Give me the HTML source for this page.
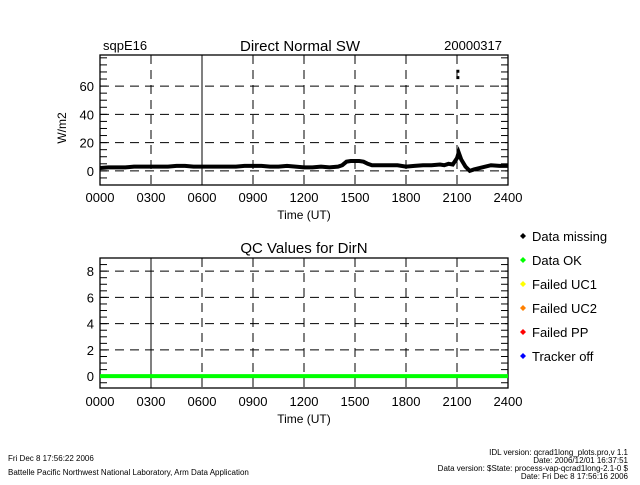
<!DOCTYPE html>
<html><head><meta charset="utf-8"><style>
body{margin:0;background:#fff;}
svg text{font-family:"Liberation Sans",sans-serif;fill:#000;}
</style></head><body>
<svg id="c" width="640" height="480" xmlns="http://www.w3.org/2000/svg">
<text x="103" y="50" font-size="13">sqpE16</text>
<text x="300" y="51" font-size="15" text-anchor="middle">Direct Normal SW</text>
<text x="502" y="50" font-size="13" text-anchor="end">20000317</text>
<text x="304" y="253" font-size="15" text-anchor="middle">QC Values for DirN</text>
<text transform="translate(66,128) rotate(-90)" font-size="12" text-anchor="middle">W/m2</text>
<text x="304" y="219" font-size="12" text-anchor="middle">Time (UT)</text>
<text x="304" y="423" font-size="12" text-anchor="middle">Time (UT)</text>
<g id="top"></g>
<g id="bot"></g>
<g id="leg"></g>
<text x="8" y="461" font-size="8">Fri Dec  8 17:56:22 2006</text>
<text x="8" y="475" font-size="8">Battelle Pacific Northwest National Laboratory, Arm Data Application</text>
<g font-size="8" text-anchor="end">
<text x="628" y="455">IDL version: qcrad1long_plots.pro,v 1.1</text>
<text x="628" y="463">Date: 2006/12/01 16:37:51</text>
<text x="628" y="471">Data version: $State: process-vap-qcrad1long-2.1-0 $</text>
<text x="628" y="479">Date: Fri Dec  8 17:56:16 2006</text>
</g>
</svg>
<script>
const hours=[0,0.5,1,1.5,2,2.5,3,3.5,4,4.5,5,5.5,6,6.5,7,7.5,8,8.5,9,9.5,10,10.5,11,11.5,12,12.5,13,13.5,14,14.25,14.5,14.75,15,15.25,15.5,15.75,16,16.5,17,17.5,18,18.5,19,19.5,20,20.25,20.5,20.75,21,21.1,21.25,21.5,21.75,22,22.5,23,23.5,24];
const dirN=[2,2.5,2.5,2.5,3,3,3,3,3,3.5,3.5,3,3,3,3,3,3,3.5,3.5,3.5,3,3,3.5,3,2.5,2.5,3,2.5,3,4,6.5,7,7,7,6.5,5,4,4,4,4,3,3.5,4,4,4.5,4,5,4.5,9,13,8,3,0,1,2.5,4,3.5,3.5];
const missingHours=[21.05,21.05];
const missingVals=[70.5,66];
const qcHours=[0,24];
const qcVals=[0,0];
const topYTicks=[0,20,40,60];
const botYTicks=[0,2,4,6,8];
const xTickLabels=["0000","0300","0600","0900","1200","1500","1800","2100","2400"];
const legendLabels=["Data missing","Data OK","Failed UC1","Failed UC2","Failed PP","Tracker off"];
const legendColors=["#000","#00ff00","#ffff00","#ff8000","#ff0000","#0000ff"];

const NS="http://www.w3.org/2000/svg";
function el(p,t,a){const e=document.createElementNS(NS,t);for(const k in a)e.setAttribute(k,a[k]);p.appendChild(e);return e;}
const X0=100,X1=508;
const xs=h=>X0+(X1-X0)*h/24;

function axes(g,top,bot,ymin,ymax,yt,minor,solidIdx,lblY){
  const ys=v=>bot-(bot-top)*(v-ymin)/(ymax-ymin);
  el(g,'rect',{x:X0,y:top,width:X1-X0,height:bot-top,fill:'none',stroke:'#000','stroke-width':1.3});
  for(let i=1;i<8;i++){const x=xs(i*3);
    const l=el(g,'line',{x1:x,x2:x,y1:top,y2:bot,stroke:'#000','stroke-width':1,'stroke-dasharray':i==solidIdx?'none':'9,6'});
    }
  yt.forEach(v=>{const y=ys(v);
    if(v>ymin+0.5){const l=el(g,'line',{x1:X0,x2:X1,y1:y,y2:y,stroke:'#000','stroke-dasharray':'9,6'});
      }
    const t=el(g,'text',{x:X0-6,y:y+5,'font-size':13,'text-anchor':'end'});t.textContent=v;
    });
  for(let v=Math.ceil(ymin/minor)*minor;v<=ymax;v+=minor){const y=ys(v);
    el(g,'line',{x1:X0,x2:X0+7,y1:y,y2:y,stroke:'#000'});el(g,'line',{x1:X1-7,x2:X1,y1:y,y2:y,stroke:'#000'});}
  xTickLabels.forEach((s,i)=>{const t=el(g,'text',{x:xs(i*3),y:lblY,'font-size':13,'text-anchor':'middle'});t.textContent=s;
    });
  return ys;
}
const tg=document.getElementById('top');
const ysT=axes(tg,55,185,-10,82,topYTicks,5,2,202);
const pl=el(tg,'polyline',{points:hours.map((h,i)=>xs(h)+','+ysT(dirN[i])).join(' '),fill:'none',stroke:'#000','stroke-width':4});

missingHours.forEach((h,i)=>{const r=el(tg,'rect',{x:xs(h)-1.5,y:ysT(missingVals[i])-1.5,width:3,height:3,fill:'#000'});
  });
const bg=document.getElementById('bot');
const ysB=axes(bg,258,388,-0.9,9,botYTicks,0.5,1,406);
const ql=el(bg,'polyline',{points:qcHours.map((h,i)=>xs(h)+','+ysB(qcVals[i])).join(' '),fill:'none',stroke:'#00ff00','stroke-width':4});

const lg=document.getElementById('leg');
legendLabels.forEach((s,i)=>{const y=236+i*24;
  const d=el(lg,'path',{d:`M${523},${y-3} l3,3 l-3,3 l-3,-3z`,fill:legendColors[i]});
  
  const t=el(lg,'text',{x:532,y:y+5,'font-size':13});t.textContent=s;
  });
</script>
</body></html>
